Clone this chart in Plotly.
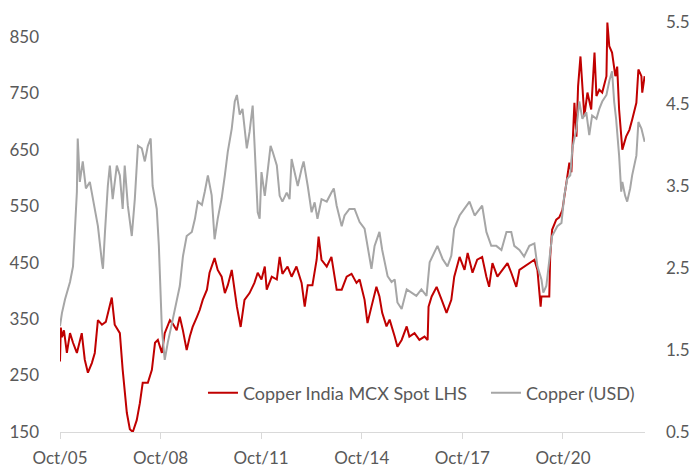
import plotly.graph_objects as go

# Copper India MCX Spot (LHS, Rs/kg)
mcx_dates = [
    "2005-10-01", "2005-10-10", "2005-10-22", "2005-11-13", "2005-12-15", "2006-01-18", "2006-02-20", "2006-04-03",
    "2006-05-26", "2006-06-28", "2006-08-01", "2006-09-13", "2006-10-15", "2006-11-18", "2007-01-01", "2007-02-12",
    "2007-04-18", "2007-05-20", "2007-07-15", "2007-08-15", "2007-09-29", "2007-11-01", "2007-12-03", "2007-12-25",
    "2008-01-15", "2008-02-18", "2008-03-20", "2008-05-15", "2008-06-28", "2008-08-01", "2008-09-01", "2008-10-15",
    "2008-11-15", "2009-01-10", "2009-02-10", "2009-03-25", "2009-04-28", "2009-06-01", "2009-07-12", "2009-08-15",
    "2009-09-15", "2009-11-01", "2009-12-01", "2010-01-03", "2010-02-18", "2010-03-18", "2010-05-12", "2010-06-15",
    "2010-07-28", "2010-09-01", "2010-10-03", "2010-11-15", "2011-01-10", "2011-02-20", "2011-04-03", "2011-05-28",
    "2011-07-20", "2011-08-25", "2011-10-05", "2011-11-10", "2011-12-01", "2012-01-25", "2012-03-20", "2012-04-20",
    "2012-05-20", "2012-07-15", "2012-08-28", "2012-10-20", "2012-12-15", "2013-01-18", "2013-02-20", "2013-04-12",
    "2013-05-28", "2013-06-18", "2013-07-20", "2013-09-15", "2013-11-05", "2014-01-01", "2014-02-25", "2014-04-20",
    "2014-06-12", "2014-08-05", "2014-09-08", "2014-11-01", "2014-12-03", "2015-01-15", "2015-03-10", "2015-04-12",
    "2015-05-12", "2015-06-28", "2015-08-01", "2015-09-25", "2015-10-25", "2015-12-10", "2016-02-03", "2016-03-03",
    "2016-04-28", "2016-06-20", "2016-08-15", "2016-09-18", "2016-09-28", "2016-11-01", "2016-12-25", "2017-02-18",
    "2017-04-12", "2017-06-03", "2017-07-05", "2017-09-01", "2017-10-25", "2017-11-28", "2018-01-20", "2018-03-12",
    "2018-05-05", "2018-06-20", "2018-07-20", "2018-08-25", "2018-10-18", "2018-12-12", "2019-02-05", "2019-03-18",
    "2019-05-12", "2019-06-15", "2019-08-05", "2019-10-01", "2019-11-25", "2019-12-28", "2020-02-01", "2020-02-10",
    "2020-05-05", "2020-05-15", "2020-06-05", "2020-07-20", "2020-08-22", "2020-09-25", "2020-11-10", "2020-12-10",
    "2021-01-01", "2021-01-12", "2021-02-03", "2021-02-25", "2021-03-15", "2021-04-10", "2021-05-01", "2021-05-22",
    "2021-06-25", "2021-08-05", "2021-09-10", "2021-10-01", "2021-11-01", "2021-12-03", "2022-01-18", "2022-01-28",
    "2022-02-18", "2022-03-20", "2022-04-25", "2022-05-15", "2022-06-05", "2022-06-28", "2022-07-10", "2022-08-20",
    "2022-09-25", "2022-10-25", "2022-12-10", "2023-01-01", "2023-02-03", "2023-02-12", "2023-03-10",
]
mcx_values = [
    275, 335, 318, 330, 290, 325, 308, 290,
    325, 278, 255, 272, 290, 348, 340, 345,
    388, 340, 325, 260, 184, 155, 150, 159,
    171, 201, 237, 237, 260, 308, 313, 290,
    325, 348, 342, 330, 354, 330, 295, 319,
    336, 354, 366, 384, 402, 432, 458, 437,
    425, 396, 410, 437, 372, 336, 384, 396,
    414, 432, 420, 443, 402, 425, 420, 460,
    430, 443, 425, 443, 414, 372, 410, 410,
    455, 496, 455, 443, 460, 402, 402, 425,
    430, 414, 420, 384, 343, 372, 407, 390,
    361, 337, 349, 319, 301, 313, 337, 319,
    325, 313, 319, 313, 372, 390, 407, 384,
    361, 384, 425, 460, 437, 467, 432, 455,
    460, 425, 407, 449, 425, 437, 449, 432,
    407, 437, 443, 449, 455, 437, 372, 390,
    390, 460, 508, 526, 530, 543, 597, 627,
    610, 645, 733, 673, 762, 815, 751, 709,
    751, 721, 822, 745, 756, 751, 780, 875,
    833, 822, 780, 797, 721, 662, 650, 673,
    685, 703, 733, 792, 780, 751, 780,
]

# Copper (USD/lb, RHS)
usd_dates = [
    "2005-10-01", "2005-10-22", "2005-11-25", "2005-12-15", "2006-01-18", "2006-02-20", "2006-03-12", "2006-04-03",
    "2006-04-12", "2006-05-05", "2006-06-06", "2006-07-10", "2006-08-22", "2006-10-15", "2006-11-18", "2007-01-01",
    "2007-01-12", "2007-02-03", "2007-03-06", "2007-03-28", "2007-04-28", "2007-06-12", "2007-07-15", "2007-08-15",
    "2007-09-06", "2007-10-10", "2007-11-22", "2007-12-25", "2008-01-28", "2008-03-10", "2008-04-12", "2008-05-15",
    "2008-06-15", "2008-07-06", "2008-08-20", "2008-09-12", "2008-10-15", "2008-11-15", "2008-12-18", "2009-02-10",
    "2009-03-25", "2009-04-28", "2009-06-01", "2009-07-12", "2009-09-06", "2009-10-10", "2009-11-10", "2009-12-25",
    "2010-01-25", "2010-02-28", "2010-04-10", "2010-05-12", "2010-06-15", "2010-07-28", "2010-09-01", "2010-10-03",
    "2010-11-15", "2010-12-18", "2011-01-10", "2011-02-10", "2011-03-12", "2011-04-28", "2011-05-28", "2011-07-01",
    "2011-07-20", "2011-08-25", "2011-09-15", "2011-10-05", "2011-11-10", "2011-12-12", "2012-01-12", "2012-02-03",
    "2012-03-20", "2012-04-20", "2012-05-20", "2012-07-06", "2012-08-06", "2012-08-28", "2012-10-01", "2012-11-03",
    "2012-12-15", "2013-01-06", "2013-02-20", "2013-04-03", "2013-05-06", "2013-06-06", "2013-07-20", "2013-09-15",
    "2013-11-05", "2013-12-01", "2014-01-01", "2014-02-25", "2014-03-28", "2014-05-20", "2014-07-15", "2014-09-08",
    "2014-11-01", "2014-12-03", "2015-01-15", "2015-02-18", "2015-04-12", "2015-05-12", "2015-07-10", "2015-08-22",
    "2015-09-25", "2015-10-25", "2015-12-10", "2016-02-03", "2016-03-25", "2016-05-18", "2016-07-12", "2016-09-06",
    "2016-10-10", "2016-11-10", "2017-01-03", "2017-02-28", "2017-04-22", "2017-06-03", "2017-07-05", "2017-09-01",
    "2017-10-25", "2017-12-18", "2018-02-12", "2018-03-12", "2018-05-05", "2018-06-20", "2018-08-12", "2018-10-06",
    "2018-12-01", "2019-01-25", "2019-03-18", "2019-04-20", "2019-06-15", "2019-08-05", "2019-10-01", "2019-11-25",
    "2019-12-28", "2020-02-10", "2020-03-01", "2020-04-03", "2020-05-05", "2020-06-05", "2020-08-01", "2020-09-15",
    "2020-10-15", "2020-11-18", "2020-12-20", "2021-01-12", "2021-02-25", "2021-03-28", "2021-05-01", "2021-06-12",
    "2021-07-15", "2021-08-15", "2021-10-01", "2021-11-01", "2021-12-03", "2022-01-18", "2022-02-18", "2022-03-20",
    "2022-04-12", "2022-05-03", "2022-06-05", "2022-06-28", "2022-07-10", "2022-08-10", "2022-09-01", "2022-10-03",
    "2022-10-25", "2022-12-10", "2023-01-01", "2023-02-03", "2023-03-10",
]
usd_values = [
    1.79, 1.95, 2.12, 2.20, 2.33, 2.52, 2.90, 3.43,
    4.08, 3.55, 3.80, 3.47, 3.55, 3.22, 3.01, 2.57,
    2.49, 2.94, 3.50, 3.75, 3.34, 3.75, 3.63, 3.22,
    3.75, 3.26, 2.89, 3.34, 3.99, 3.96, 3.80, 3.99,
    4.08, 3.50, 3.22, 2.77, 1.75, 1.38, 1.59, 1.87,
    2.12, 2.28, 2.64, 2.89, 2.94, 3.10, 3.31, 3.27,
    3.43, 3.63, 3.39, 2.85, 3.10, 3.35, 3.63, 3.92,
    4.20, 4.53, 4.61, 4.37, 4.44, 3.96, 4.16, 4.48,
    4.04, 3.18, 3.10, 3.67, 3.38, 3.71, 3.99, 3.92,
    3.75, 3.38, 3.31, 3.42, 3.34, 3.83, 3.67, 3.50,
    3.71, 3.80, 3.50, 3.18, 3.30, 3.10, 3.34, 3.31,
    3.42, 3.47, 3.26, 3.01, 3.14, 3.22, 3.22, 3.06,
    2.98, 2.77, 2.49, 2.77, 2.94, 2.72, 2.40, 2.33,
    2.36, 2.08, 2.00, 2.24, 2.20, 2.16, 2.24, 2.16,
    2.57, 2.65, 2.77, 2.61, 2.52, 2.65, 2.98, 3.14,
    3.22, 3.31, 3.14, 3.18, 3.26, 2.94, 2.77, 2.77,
    2.72, 2.94, 2.94, 2.77, 2.72, 2.64, 2.77, 2.80,
    2.52, 2.36, 2.20, 2.28, 2.57, 2.89, 3.01, 3.05,
    3.38, 3.59, 3.63, 3.96, 4.20, 4.53, 4.32, 4.40,
    4.12, 4.36, 4.32, 4.44, 4.53, 4.61, 4.78, 4.90,
    4.53, 4.32, 3.87, 3.43, 3.55, 3.38, 3.31, 3.47,
    3.63, 3.87, 4.28, 4.20, 4.04,
]

left_ticks = [150, 250, 350, 450, 550, 650, 750, 850]
right_ticks = [0.5, 1.5, 2.5, 3.5, 4.5, 5.5]

fig = go.Figure()
fig.add_trace(go.Scatter(
    x=mcx_dates, y=mcx_values, name="Copper India MCX Spot LHS", mode="lines",
    line=dict(color="#C00000", width=2), yaxis="y",
))
fig.add_trace(go.Scatter(
    x=usd_dates, y=usd_values, name="Copper (USD)", mode="lines",
    line=dict(color="#A6A6A6", width=2), yaxis="y2",
))

fig.update_layout(
    width=694, height=468,
    margin=dict(l=60, r=49, t=22, b=36, autoexpand=False),
    paper_bgcolor="white", plot_bgcolor="white",
    font=dict(family="Lato, Carlito, Calibri, sans-serif", size=17, color="#595959"),
    xaxis=dict(
        type="date", range=["2005-10-01", "2023-03-14"],
        tick0="2005-10-01", dtick="M36", tickformat="%b/%y",
        showgrid=False, zeroline=False, automargin=False,
        showline=True, linecolor="#D9D9D9", linewidth=1,
        ticks="outside", ticklen=6, tickcolor="#D9D9D9", tickwidth=1,
        ticklabelstandoff=5,
    ),
    yaxis=dict(
        range=[150, 876], tickvals=left_ticks, showgrid=False, zeroline=False,
        showline=False, ticks="", ticklabelstandoff=20, automargin=False,
    ),
    yaxis2=dict(
        overlaying="y", side="right", range=[0.5, 5.5], tickvals=right_ticks,
        tickformat=".1f", showgrid=False, zeroline=False, showline=False,
        ticks="", ticklabelstandoff=20, automargin=False,
    ),
    legend=dict(
        orientation="h", x=0.2444, y=0.0947, xanchor="left", yanchor="middle",
        bgcolor="rgba(0,0,0,0)", font=dict(size=18, color="#595959"),
        itemwidth=30, tracegroupgap=0, entrywidth=238,
    ),
    showlegend=True,
)

fig.write_html(
    "out.html",
    config={"displayModeBar": False},
    post_script="document.body.style.margin='0px';",
)
